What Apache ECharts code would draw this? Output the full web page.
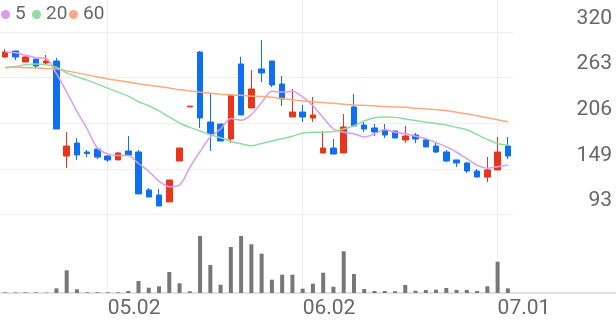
<!DOCTYPE html>
<html><head><meta charset="utf-8">
<script src="https://cdn.jsdelivr.net/npm/echarts@6/dist/echarts.min.js"></script>
<style>html,body{margin:0;padding:0;background:#fff}#c{width:616px;height:321px}</style>
</head><body><div id="c"></div>
<script>
const dates = ['04.17','04.18','04.21','04.22','04.23','04.24','04.25','04.28','04.29','04.30',
  '05.02','05.07','05.08','05.09','05.12','05.13','05.14','05.15','05.16','05.19','05.20','05.21','05.22','05.23','05.26','05.27','05.28','05.29','05.30',
  '06.02','06.04','06.05','06.09','06.10','06.11','06.12','06.13','06.16','06.17','06.18','06.19','06.20','06.23','06.24','06.25','06.26','06.27','06.30',
  '07.01','07.02'];
const opens  = [288.8,296.3,282.6,286.3,281.3,283.8,165.3,181.5,170.3,174,165.3,160.4,171.6,170.3,123,116.7,108,159.1,226.5,295,207.7,205.2,186.5,280.1,225.2,273.9,283.8,255.1,214,220.2,212.7,169.1,175.3,169.1,226.5,204,200.3,197.8,196.5,185.3,191.5,185.3,177.8,170.3,160.4,156.6,146.6,139.1,147.9,177.8];
const closes = [295.1,288.8,288.8,277.6,283.8,199,177.8,166.6,168.5,164,160.4,169.1,166.6,118,114.2,103,135.4,175.3,227.5,212.7,192.8,184,241.4,216.5,248.9,268.9,253.9,236.4,220.2,214,216.5,175.3,167.8,201.5,202.8,199,195.3,191.5,187.8,190.3,186.5,176.6,170.3,159.1,156.6,146.6,139.1,147.9,170.3,165.3];
const lows   = [288,285,282.6,275.1,278.8,199,150.4,160.4,164,161.6,157.9,160.4,165.3,118,114.2,103,108,159.1,226.5,200.3,171.6,184,181.5,216.5,225.2,257.6,251.4,227.7,214,207.7,207.7,169.1,167.8,169.1,202,195.3,190.3,187.8,187.8,181.5,181.5,176.6,169,157.9,151.6,144.1,139.1,132.9,147.9,161.6];
const highs  = [298.8,296.3,290,286.3,291.3,287.5,195.3,187.8,172.8,175.3,166.6,170.3,190.3,172.8,125.4,124.2,135.4,175.3,227.5,296.3,242.7,205.2,241.4,289.2,272.6,310,283.8,265.1,248.9,229,238.9,196.5,186.5,217.7,242.7,207.7,205.2,205.2,196.5,202.8,194,187.8,182.8,172.8,160.4,157.9,149.1,164.1,189,189];
const ma5  = [295,294,291,288,287,268,245,221,199,175,168,166,166,156,146,134,127,129,151,171,189,199,212,210,217,232,246,245,246,239,228,213,199,195,193,189,193,198,195,193,190,187,182,177,170,162,154,150,152,154];
const ma20 = [275,277,279,280,279,276,269,264,260,255,250,245,240,233,228,221.5,214,206.5,201,196.5,192,188,183.5,180.5,178,181,184,187,190,194,195,195,196,199,203,209,213,214,213.5,211.5,209.5,207.5,206,204,201,198,192,186,181,179];
const ma60 = [276,276,275.5,275,274.5,274,271.5,269,266.5,264,261.5,259.5,257.5,255.5,253.5,252,250,248,246.5,245,243.5,242.5,241.5,241,240,239.5,238.5,237,235.5,234,233,232,231,230,229,228.5,228,227,226.5,226,225,224,223,222,220,218,215.5,213,210.5,208];
const volumes = [0.6,0.6,0.6,0.6,0.4,4.7,22.7,3.7,0.7,0.7,0.7,0.7,2,12,5.3,6.7,21,9.7,1.7,57,28,8.3,46,57,48.7,39.3,13.3,18.3,18.3,4.3,9.3,20.3,6.3,41.7,19,4,2,2,1.7,8,2.3,3,3.3,5,3,3,2,6.7,31.3,4.7];
const priceTicks = [93,149,206,263,320];
const monthLabels = ['05.02','06.02','07.01'];
const maNames = ['5','20','60'];

const UP = '#e8351b', DOWN = '#0f6ff2';
const GRID_C = '#efefef';
const MA_COLORS = ['#d99cf0', '#8fdca0', '#fca982'];
const legendLefts = [1, 32, 69];
const candles = dates.map((d, i) => [opens[i], closes[i], lows[i], highs[i]]);
const vLines = {
  silent: true, symbol: ['none','none'], animation: false, z: 0,
  label: {show: false},
  lineStyle: {color: GRID_C, width: 1, type: 'solid'},
  emphasis: {disabled: true},
  data: monthLabels.map(m => ({xAxis: m}))
};
const chart = echarts.init(document.getElementById('c'), null, {renderer: 'canvas'});
chart.setOption({
  animation: false,
  backgroundColor: '#fff',
  textStyle: {fontFamily: 'Roboto'},
  legend: maNames.map((n, k) => ({
    left: legendLefts[k], top: 5, icon: 'circle', itemWidth: 9, itemHeight: 9, padding: 0,
    textStyle: {fontSize: 19, color: '#666', fontFamily: 'Roboto'},
    data: [n]
  })),
  graphic: [{type: 'line', shape: {x1: 0, y1: 293, x2: 616, y2: 293}, style: {stroke: '#e2e2e2', lineWidth: 2}, z: 0}],
  grid: [
    {left: 0, right: 103, top: 0, height: 218},
    {left: 0, right: 103, top: 218, height: 75}
  ],
  xAxis: [
    {type: 'category', data: dates, gridIndex: 0, boundaryGap: true,
     axisLine: {show: false}, axisTick: {show: false}, axisLabel: {show: false}, splitLine: {show: false}},
    {type: 'category', data: dates, gridIndex: 1, boundaryGap: true,
     axisLine: {show: false}, axisTick: {show: false}, splitLine: {show: false},
     axisLabel: {interval: (i, v) => monthLabels.indexOf(v) >= 0, align: 'left', margin: 5,
       fontSize: 21, color: '#666', fontFamily: 'Roboto'}}
  ],
  yAxis: [
    {type: 'value', gridIndex: 0, position: 'right', min: 88.0, max: 359.9, scale: true,
     axisLine: {show: false},
     axisTick: {show: false, customValues: priceTicks},
     axisLabel: {customValues: priceTicks, align: 'right', margin: 99, verticalAlign: 'bottom',
       padding: [0, 0, 3, 0], fontSize: 21, color: '#666', fontFamily: 'Roboto'},
     splitLine: {show: true, lineStyle: {color: GRID_C, width: 1}}},
    {type: 'value', gridIndex: 1, min: 0, max: 75, show: false, splitLine: {show: false}}
  ],
  series: [
    {type: 'candlestick', name: 'price', xAxisIndex: 0, yAxisIndex: 0, data: candles, barWidth: 6,
     itemStyle: {color: UP, color0: DOWN, borderColor: UP, borderColor0: DOWN, borderWidth: 1},
     markLine: vLines, z: 3},
    {type: 'line', name: maNames[0], data: ma5, xAxisIndex: 0, yAxisIndex: 0, showSymbol: false, smooth: 0.3,
     lineStyle: {color: MA_COLORS[0], width: 1.5}, itemStyle: {color: MA_COLORS[0]}, z: 4},
    {type: 'line', name: maNames[1], data: ma20, xAxisIndex: 0, yAxisIndex: 0, showSymbol: false, smooth: 0.3,
     lineStyle: {color: MA_COLORS[1], width: 1.5}, itemStyle: {color: MA_COLORS[1]}, z: 4},
    {type: 'line', name: maNames[2], data: ma60, xAxisIndex: 0, yAxisIndex: 0, showSymbol: false, smooth: 0.3,
     lineStyle: {color: MA_COLORS[2], width: 1.5}, itemStyle: {color: MA_COLORS[2]}, z: 4},
    {type: 'bar', name: 'vol', data: volumes, xAxisIndex: 1, yAxisIndex: 1, barWidth: 4,
     itemStyle: {color: '#777'}, markLine: vLines, z: 3}
  ]
});
</script></body></html>
